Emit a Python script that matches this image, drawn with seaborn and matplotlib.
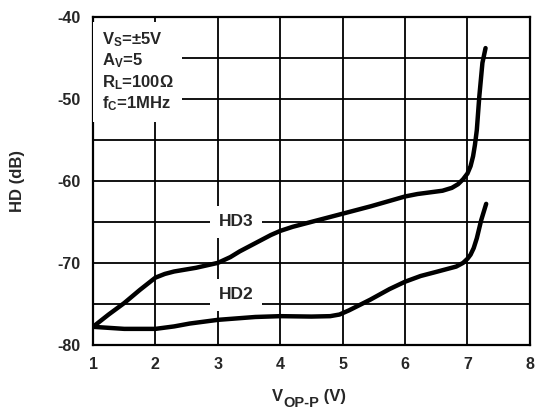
import numpy as np
import pandas as pd
import matplotlib.pyplot as plt
import seaborn as sns

## values ##
hd3_v = [1.0, 1.25, 1.5, 1.75, 2.0, 2.15, 2.3, 2.65, 3.0, 3.2, 3.35, 3.55, 3.7, 3.85, 4.0, 4.2, 4.5, 5.0, 5.45,
         6.0, 6.2, 6.6, 6.75, 6.85, 6.93, 7.0, 7.05, 7.09, 7.12, 7.15, 7.19, 7.24, 7.29]
hd3_db = [-77.8, -76.3, -74.9, -73.3, -71.8, -71.35, -71.05, -70.6, -70.0, -69.3, -68.6, -67.8, -67.2, -66.6, -66.1, -65.6, -65.0, -64.0, -63.1,
          -61.9, -61.6, -61.2, -60.85, -60.4, -59.8, -59.1, -58.2, -57.0, -55.6, -53.8, -49.7, -45.6, -43.8]

hd2_v = [1.0, 1.5, 2.0, 2.3, 2.55, 3.0, 3.6, 4.0, 4.5, 4.8, 4.95, 5.1, 5.44, 5.75, 6.0, 6.25, 6.5, 6.82,
         6.93, 7.0, 7.05, 7.1, 7.15, 7.22, 7.3]
hd2_db = [-77.8, -78.05, -78.05, -77.75, -77.4, -76.95, -76.6, -76.5, -76.55, -76.5, -76.3, -75.8, -74.5, -73.2, -72.3, -71.6, -71.1, -70.45,
          -70.0, -69.5, -69.0, -68.2, -67.0, -64.8, -62.8]

x_ticks = [1, 2, 3, 4, 5, 6, 7, 8]
y_ticks = [-80, -70, -60, -50, -40]
y_grid = [-75, -65, -55, -45]
notes = ["V$_S$=±5V", "A$_V$=5", "R$_L$=100Ω", "f$_C$=1MHz"]

sns.set_style('white')
plt.rcParams['font.family'] = ['Liberation Sans', 'DejaVu Sans']
plt.rcParams['font.weight'] = 'bold'
plt.rcParams['axes.unicode_minus'] = False
plt.rcParams['mathtext.fontset'] = 'custom'
plt.rcParams['mathtext.rm'] = 'Liberation Sans:bold'
plt.rcParams['mathtext.it'] = 'Liberation Sans:bold'
plt.rcParams['mathtext.bf'] = 'Liberation Sans:bold'
plt.rcParams['mathtext.default'] = 'rm'

df = pd.concat([
    pd.DataFrame({'v': hd3_v, 'hd': hd3_db, 'curve': 'HD3'}),
    pd.DataFrame({'v': hd2_v, 'hd': hd2_db, 'curve': 'HD2'}),
])

fig, ax = plt.subplots(figsize=(5.44, 4.13), dpi=100)
fig.subplots_adjust(left=0.171, right=0.974, top=0.959, bottom=0.165)

sns.lineplot(data=df, x='v', y='hd', units='curve', estimator=None, sort=False,
             color='black', lw=3.2, ax=ax, zorder=4)
for ln in ax.lines:
    ln.set_solid_joinstyle('round')

ax.set_xlim(1, 8)
ax.set_ylim(-80, -40)
ax.set_xticks(x_ticks)
ax.set_yticks(y_ticks)
ax.set_yticks(y_grid, minor=True)
ax.grid(which='both', color='black', lw=1.3)
ax.tick_params(which='both', length=0, labelsize=11.5)
ax.tick_params(axis='x', pad=9)
ax.tick_params(axis='y', pad=9)
for s in ax.spines.values():
    s.set_color('black')
    s.set_linewidth(1.6)

## x label: V with a near full size subscript ##
ax.set_xlabel("")
t1 = fig.text(0.5, 0.039, "V", fontsize=12, fontweight='bold', ha='left', va='center')
t2 = ax.annotate("OP-P", xy=(1, 0.1), xycoords=t1, fontsize=10.5, fontweight='bold',
                 ha='left', va='center', annotation_clip=False)
ax.annotate(" (V)", xy=(1, 0.5), xycoords=(t2, t1), fontsize=12, fontweight='bold',
            ha='left', va='center', annotation_clip=False)

ax.set_ylabel("HD (dB)", fontsize=12, fontweight='bold')
ax.yaxis.set_label_coords(-0.155, 0.5)

box = dict(boxstyle='square,pad=0.5', fc='white', ec='none')
ax.text(1.14, -41.6, "\n".join(notes), fontsize=12, fontweight='bold', va='top', ha='left',
        linespacing=1.2, zorder=3, bbox=box)
ax.text(3.29, -65.0, "HD3", fontsize=12.5, fontweight='bold', ha='center', va='center',
        zorder=3, bbox=box)
ax.text(3.29, -73.9, "HD2", fontsize=12.5, fontweight='bold', ha='center', va='center',
        zorder=3, bbox=box)

plt.savefig('out.png', dpi=100)
